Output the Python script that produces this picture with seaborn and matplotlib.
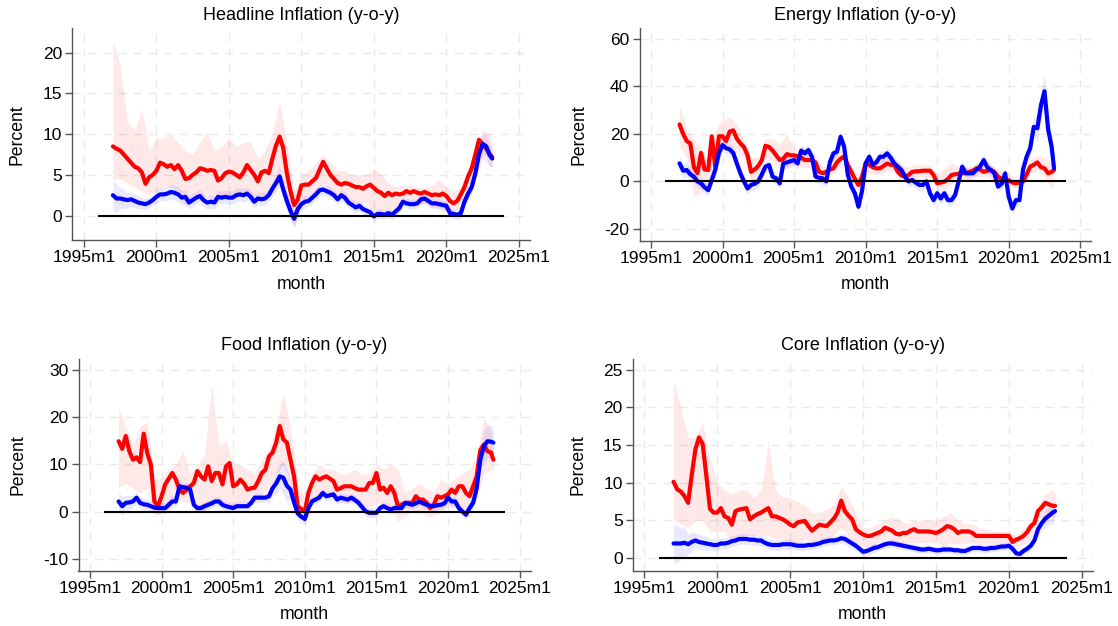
import numpy as np
import matplotlib
matplotlib.use("Agg")
import matplotlib.pyplot as plt
import seaborn as sns

# ---------------- data ----------------
# month index counted from 1997m1 (quarterly for lines, half-yearly for bands)
line_months = list(range(0, 313, 3)) + [314]
band_months = list(range(0, 313, 6)) + [314]
start_year = 1997

xtick_years = [1995, 2000, 2005, 2010, 2015, 2020, 2025]
xtick_labels = ["1995m1", "2000m1", "2005m1", "2010m1", "2015m1", "2020m1", "2025m1"]
zero_line_span = [1996, 2024]

titles = ["Headline Inflation (y-o-y)", "Energy Inflation (y-o-y)",
          "Food Inflation (y-o-y)", "Core Inflation (y-o-y)"]

# ---- Headline ----
headline_em = [8.5, 8.2, 8.0, 7.5, 7.0, 6.5, 6.0, 5.8, 5.3, 3.9, 4.7, 5.0,
               5.5, 6.5, 6.3, 6.0, 6.2, 5.7, 6.2, 5.5, 4.5, 4.6, 5.0, 5.3,
               5.8, 5.7, 5.5, 5.6, 5.5, 4.3, 4.6, 5.2, 5.4, 5.3, 5.0, 4.7,
               5.3, 6.2, 5.6, 5.0, 4.2, 5.3, 5.5, 5.2, 7.0, 8.6, 9.7, 8.3,
               5.2, 3.0, 1.3, 2.0, 3.7, 3.8, 3.8, 4.2, 4.6, 5.6, 6.6, 5.8,
               5.0, 4.5, 4.0, 3.8, 4.0, 3.9, 3.7, 3.5, 3.5, 3.3, 3.6, 3.8,
               3.4, 3.0, 2.8, 2.4, 2.8, 2.5, 2.7, 2.6, 2.7, 3.0, 2.8, 3.0,
               2.8, 2.7, 2.9, 2.7, 2.5, 2.6, 2.5, 2.7, 2.4, 1.8, 1.5, 1.8,
               2.6, 3.5, 4.8, 5.8, 7.5, 9.3, 8.8, 8.2, 7.5, 7.2]
headline_ae = [2.5, 2.1, 2.1, 2.0, 1.9, 2.0, 1.8, 1.6, 1.5, 1.4, 1.6, 1.9,
               2.3, 2.6, 2.6, 2.7, 2.9, 2.8, 2.6, 2.2, 2.3, 1.6, 1.9, 2.2,
               2.4, 1.9, 1.6, 1.7, 1.6, 2.3, 2.2, 2.3, 2.2, 2.2, 2.5, 2.6,
               2.5, 2.7, 2.3, 1.7, 2.1, 2.0, 2.1, 2.5, 3.3, 4.0, 4.8, 3.2,
               1.8, 0.6, -0.4, 0.8, 1.4, 1.7, 1.8, 2.2, 2.6, 3.1, 3.2, 3.0,
               2.8, 2.5, 2.0, 2.5, 2.2, 1.6, 1.3, 1.0, 1.2, 0.8, 0.6, 0.4,
               -0.1, 0.2, 0.2, 0.1, 0.3, 0.1, 0.5, 0.9, 1.7, 1.5, 1.4, 1.4,
               1.5, 2.0, 2.1, 1.8, 1.5, 1.5, 1.4, 1.3, 1.2, 0.3, 0.2, 0.1,
               0.3, 1.7, 2.7, 3.5, 5.2, 7.5, 8.8, 8.5, 7.4, 7.0]
headline_em_hi = [21.5, 18.5, 11.5, 10.5, 13, 8, 9.5, 9.5, 10, 9, 8, 7.5, 9, 10.3, 8, 8.5,
                  9.5, 8.5, 9, 9, 7, 8, 10, 14, 9, 3, 5, 5.5, 6.5, 7.5, 6.5, 5.5,
                  5.5, 5, 5, 5, 5.8, 5, 4, 3.5, 3.7, 3.7, 3.5, 3.5, 3.7, 4.5, 3.5, 3,
                  3.5, 5.5, 8, 10.5, 10, 8]
headline_em_lo = [4.5, 4.5, 4, 3.5, 3, 2.5, 3, 3.5, 3.5, 3, 1, 2.5, 2.5, 2.5, 1.5, 2,
                  2.5, 2.5, 2.5, 2.5, 2, 2.5, 3.5, 5, 1, -1.5, 1.5, 2.5, 3, 4, 3, 2.5,
                  2.5, 1.5, 1.5, 1.5, 0.5, 0.5, 0, 0.5, 1.5, 1.5, 1.5, 1.5, 1.0, 1, 0.5, 0.5,
                  1, 2, 4.5, 7, 6, 6]
headline_ae_hw = [1.8, 1.2, 0.9, 0.8, 0.7, 0.7, 0.8, 0.8, 0.9, 0.9, 0.8, 0.8, 0.8, 0.8, 0.8, 0.8,
                  0.8, 0.8, 0.8, 0.8, 0.8, 0.8, 1.0, 1.2, 1.2, 1.0, 0.8, 0.7, 0.7, 0.7, 0.7, 0.7,
                  0.7, 0.7, 0.6, 0.6, 0.6, 0.6, 0.6, 0.6, 0.6, 0.6, 0.6, 0.6, 0.6, 0.6, 0.6, 0.6,
                  0.7, 0.8, 1.0, 1.3, 1.4, 1.0]

# ---- Energy ----
energy_em = [24, 20, 17, 16, 6, 3.5, 12, 5, 4.8, 19, 6, 19,
             19, 17, 21, 21.5, 18, 16, 14.5, 11, 4, 5, 6.5, 9,
             15, 14.5, 13, 11, 9, 9.5, 11.5, 11, 11, 10.5, 10, 9,
             9, 9, 8, 4, 3.5, 4, 5, 5.5, 8, 9.5, 10.5, 7,
             4, 1, -1.5, 2, 7.5, 7, 6, 5.5, 5.5, 6.5, 7.5, 7,
             7, 4, 2.5, 2, 2.7, 4, 4.2, 4.3, 4.5, 4.5, 4.5, 2.7,
             -0.8, -0.5, -0.1, 1, 2.7, 3, 3.2, 3.4, 3.5, 4, 4.5, 5.5,
             5, 4, 4.5, 4.8, 4, 2, 1, 0.5, 0.5, -0.5, -0.8, -0.5,
             0, 3, 6.2, 7, 8, 6, 5.5, 3.4, 4, 4.8]
energy_ae = [7.6, 4.5, 4.8, 3, 2, 0, -0.8, -2.5, -3.7, 0.6, 5, 12,
             15.3, 14, 13.5, 12, 7.6, 3.4, 0, -3, -1.5, -1, 0, 3,
             6.2, 6.9, 2, 1.3, -0.8, 7.6, 8, 8.5, 9, 7.6, 13, 11.8,
             13.2, 10.4, 2, 1.5, 1.3, 0, 8, 11.8, 12.5, 18.8, 14.6, 3,
             -2.2, -5, -10.7, -4, 7.6, 10.4, 7, 8, 10.4, 10.4, 11.8, 10,
             7.6, 6.2, 4.8, 2, 0, 0.6, -0.5, -1.5, -1.5, 0, -5, -7.9,
             -5, -7.2, -5, -7.9, -7.9, -5.8, 0, 6.2, 3.4, 3.4, 3.4, 5,
             6.2, 9, 6, 4.8, 3.4, -2.2, -1, 3.4, -6.5, -11.4, -7.9, -7.9,
             5, 10.4, 14, 23, 22.4, 32, 38, 22, 14.6, 5.5]
energy_em_hi = [32, 22, 18, 14, 8, 22, 26, 27, 24, 18, 10, 10, 18, 18, 16, 20,
                14, 12, 12, 11, 6, 8, 12, 14, 7, 2, 10, 9, 10, 10, 9, 7,
                6, 7, 7, 7, 3, 5, 8, 6, 6, 7, 8, 8, 6, 4, 3, 1.5,
                2, 9, 11, 10, 8, 6]
energy_em_lo = [15, 10, -6, -5, 0, 2, 14, 15, 12, 10, 0, 2, 10, 9, 5, 6,
                7, 6, 6, 5, 1, 2, 5, 7, 0, -4, 4, 3, 3, 4, 4, 0,
                0, 2, 2, 2, -3, -3, -1, 0, 1, 2, 2, 2, 0, -1, -2, -3,
                -2, 3, 5, 2, -3, 0]
energy_ae_hw = [3, 3, 2.5, 2.5, 2.5, 2.5, 2.5, 2.5, 2.5, 2.5, 2.5, 2.5, 2.5, 2.5, 2.5, 2.5,
                2.5, 2.5, 2.5, 2.5, 2.5, 2.5, 2.5, 2.5, 3, 3, 2.5, 2.5, 2.5, 2.5, 2.5, 2.5,
                2.5, 2.5, 2.5, 2.5, 2.5, 2.5, 2.5, 2.5, 2.5, 2.5, 2.5, 2.5, 2.5, 2.5, 2.5, 2.5,
                3, 4, 6, 7, 6, 4]

# ---- Food ----
food_em = [14.9, 13.3, 16, 12.8, 11, 11.5, 10.5, 16.5, 12.4, 10, 2.2, 1.2,
           3.3, 5.8, 7, 8.2, 6.8, 4.7, 4, 4.7, 5.4, 6.1, 8.6, 7.5,
           6.8, 9.6, 6.5, 8.2, 8.2, 5.8, 9.6, 10.3, 5.4, 5.8, 6.8, 6,
           4.7, 5, 5.1, 6.5, 8.2, 8.9, 11.7, 12.5, 14.6, 18.1, 15.3, 14.6,
           11, 7.5, 1.2, 0.6, 0.1, 4, 6.1, 7.5, 6.8, 7.2, 7.5, 7,
           6.5, 4.7, 5, 5.4, 5.4, 5.4, 5, 4.7, 4.7, 4.7, 6.1, 6.1,
           8.2, 4.7, 5.1, 4, 5.4, 4, 1.2, 1.5, 1.9, 1.9, 1.9, 3.3,
           2.6, 2.6, 1.9, 0.8, 1.5, 3.3, 3, 3.3, 3.7, 4.7, 4, 5.4,
           5.4, 4, 3.3, 5.4, 7.5, 13, 14.2, 12.8, 12.5, 11]
food_ae = [2.2, 1.2, 1.9, 2, 2.2, 3, 1.9, 1.6, 1.5, 1.2, 0.9, 0.8,
           0.8, 0.8, 1.5, 2.2, 2.2, 5.4, 5.2, 5.1, 4.7, 1.5, 0.8, 0.8,
           1.2, 1.5, 1.8, 2.2, 2.2, 1.5, 1.2, 1, 0.8, 1.2, 1.2, 1.2,
           1.2, 1.9, 3, 3, 3, 3, 3.3, 5, 6, 7.5, 7.2, 5.5,
           4.7, 2, -0.3, -1, -1.5, 0.8, 2.2, 2.6, 3, 4, 3.3, 3.5,
           3.7, 2.6, 3, 2.8, 2.6, 3, 2.5, 1.9, 1, 0.1, -0.2, -0.2,
           -0.2, 0.8, 1.2, 0.8, 0.5, 0.8, 0.8, 0.8, 1.9, 1.7, 1.5, 1.8,
           2.2, 1.8, 1.5, 1.3, 1.2, 1.4, 1.5, 1.8, 3, 2.2, 2.2, 0.8,
           0.1, -0.6, 0.8, 1.9, 5, 11, 13.8, 14.9, 14.8, 14.6]
food_em_hi = [22, 18, 14, 18, 19, 7, 7, 9, 10, 13, 8, 10, 12, 27, 14, 15,
              10, 10, 9, 8, 11, 13, 18, 25, 18, 6, 3, 8, 10, 9, 9, 8,
              8, 9, 8, 8, 10, 9, 10, 9, 4, 5, 6, 5, 4, 7, 6, 7,
              8, 9, 12, 20, 17, 13]
food_em_lo = [5, 6, 5, 4, 5, -1, 0, 2, 3, 2, 2, 2, 0, 2, 2, 2,
              1, 2, 2, 2, 4, 5, 8, 10, 6, -1, -2, 2, 3, 4, 3, 2,
              2, 2, 1, 1, 2, 1, 1, -2, -1, 0, 0, -1, -1, 0, 1, 1,
              1, 0, 3, 8, 9, 9]
food_ae_hw = [2, 1.5, 1.3, 1.2, 1.2, 1.2, 1.2, 1.2, 1.0, 1.0, 1.0, 1.0, 1.0, 1.0, 1.0, 1.0,
              1.0, 1.0, 1.0, 1.0, 1.0, 1.5, 2.5, 3.5, 2.0, 1.3, 1.2, 1.0, 1.0, 1.0, 1.0, 1.0,
              1.0, 1.0, 1.0, 1.0, 1.0, 1.0, 1.0, 1.0, 1.0, 1.0, 1.0, 1.0, 1.0, 1.0, 1.0, 1.0,
              1.0, 1.2, 2.0, 3.5, 3.5, 2.5]

# ---- Core ----
core_em = [10.1, 9.1, 8.8, 8.2, 7.3, 11, 14.4, 16, 15.1, 10.9, 6.5, 6,
           6, 6.6, 5.5, 5.3, 4.4, 6.2, 6.4, 6.5, 6.6, 5.1, 5.5, 5.8,
           6, 6.3, 6.6, 5.5, 5.5, 5.3, 5.1, 4.8, 4.4, 4.2, 4.7, 4.8,
           4.9, 4.2, 3.6, 4.0, 4.4, 4.3, 4.2, 4.7, 5.2, 6, 7.6, 6.2,
           5.6, 5.1, 3.8, 3.4, 3.1, 2.9, 2.9, 3.1, 3.3, 3.5, 4, 3.8,
           3.6, 3.2, 3.1, 3.3, 3.3, 3.6, 3.8, 3.5, 3.5, 3.5, 3.5, 3.4,
           3.3, 3.5, 3.8, 4.2, 4.1, 3.8, 3.3, 3.5, 3.5, 3.5, 3.3, 2.9,
           2.9, 2.9, 2.9, 2.9, 2.9, 2.9, 2.9, 2.9, 2.9, 2.1, 2.4, 2.6,
           2.9, 3.4, 4.2, 4.6, 6.2, 6.7, 7.3, 7.1, 6.9, 6.9]
core_ae = [1.9, 1.9, 1.9, 2.0, 1.8, 2.1, 2.3, 2.1, 2.0, 1.9, 1.8, 1.7,
           1.7, 1.9, 1.9, 2.0, 2.2, 2.3, 2.5, 2.5, 2.5, 2.4, 2.4, 2.3,
           2.3, 2.0, 1.8, 1.7, 1.7, 1.7, 1.8, 1.8, 1.8, 1.7, 1.6, 1.6,
           1.6, 1.7, 1.7, 1.8, 1.9, 2.1, 2.2, 2.3, 2.3, 2.4, 2.6, 2.5,
           2.2, 1.9, 1.6, 1.2, 0.8, 0.9, 1.1, 1.3, 1.4, 1.6, 1.8, 1.9,
           1.9, 1.8, 1.7, 1.6, 1.5, 1.4, 1.3, 1.2, 1.1, 1.1, 1.2, 1.1,
           1.0, 1.0, 1.1, 1.1, 1.1, 1.0, 1.0, 0.9, 0.9, 1.1, 1.3, 1.3,
           1.3, 1.2, 1.2, 1.3, 1.3, 1.4, 1.5, 1.5, 1.6, 1.2, 0.6, 0.5,
           0.9, 1.2, 1.6, 2.3, 3.8, 4.6, 5.2, 5.6, 6.0, 6.2]
core_em_hi = [23.5, 20, 16, 16, 18, 13, 10, 9, 8.5, 9, 9, 8, 9, 15.5, 9, 8,
              8, 7.5, 7, 6, 6, 6.5, 7, 9.5, 8, 6, 4, 4, 4.5, 5, 5.5, 5,
              4.5, 5, 5, 5, 5, 5.5, 6, 5, 4.5, 4.5, 4, 3.8, 3.5, 3.5, 3.5, 3,
              3.8, 5, 7, 8.5, 9, 8.5]
core_em_lo = [5, 4.5, 4, 5, 5, 3.5, 3.5, 3.5, 2, 2.5, 3, 3, 3, 3, 2.5, 2.5,
              2, 2, 2.5, 2.2, 2.5, 2.5, 3, 4, 3, 2, 1.5, 1.5, 2, 2.5, 2, 1.8,
              2, 2, 2, 2, 2, 1.5, 2, 1.8, 2, 2, 1.8, 1.8, 1.8, 1.8, 1.8, 1.2,
              1.8, 2.5, 5, 5.5, 5.5, 5.5]
core_ae_hw = [2.5, 2.0, 1.3, 1.0, 0.9, 0.8, 0.7, 0.7, 0.7, 0.7, 0.7, 0.7, 0.7, 0.7, 0.7, 0.7,
              0.6, 0.6, 0.6, 0.6, 0.6, 0.6, 0.6, 0.7, 0.7, 0.6, 0.6, 0.6, 0.5, 0.5, 0.5, 0.5,
              0.5, 0.5, 0.5, 0.5, 0.5, 0.5, 0.5, 0.5, 0.5, 0.5, 0.5, 0.5, 0.5, 0.5, 0.5, 0.5,
              0.5, 0.6, 0.8, 1.2, 1.5, 1.0]

panels = [
    (headline_em, headline_ae, headline_em_lo, headline_em_hi, headline_ae_hw,
     (-3, 23), [0, 5, 10, 15, 20]),
    (energy_em, energy_ae, energy_em_lo, energy_em_hi, energy_ae_hw,
     (-24.9, 64.5), [-20, 0, 20, 40, 60]),
    (food_em, food_ae, food_em_lo, food_em_hi, food_ae_hw,
     (-12.4, 32.3), [-10, 0, 10, 20, 30]),
    (core_em, core_ae, core_em_lo, core_em_hi, core_ae_hw,
     (-1.72, 26.46), [0, 5, 10, 15, 20, 25]),
]

# ---------------- style ----------------
sns.set_theme(style="white")
plt.rcParams['font.family'] = ['Liberation Sans', 'DejaVu Sans']
plt.rcParams['text.color'] = 'black'
plt.rcParams['axes.labelcolor'] = 'black'
plt.rcParams['xtick.color'] = 'black'
plt.rcParams['ytick.color'] = 'black'

W, H = 1118, 626
fig = plt.figure(figsize=(W / 100, H / 100), dpi=100)
# axes boxes in pixels: left, top, right, bottom
rects_px = [(72.3, 28.3, 530.0, 240.0), (639.5, 28.3, 1091.3, 240.5),
            (78.5, 358.7, 530.7, 570.7), (632.7, 358.7, 1093.0, 570.7)]

xq = start_year + np.array(line_months) / 12.0
xb = start_year + np.array(band_months) / 12.0

for (em, ae, lo, hi, hw, ylim, yt), title, (l, t, r, b) in zip(panels, titles, rects_px):
    ax = fig.add_axes([l / W, 1 - b / H, (r - l) / W, (b - t) / H])
    em = np.array(em, dtype=float)
    ae = np.array(ae, dtype=float)
    hw = np.array(hw, dtype=float)
    hwq = np.append(np.repeat(hw[:-1], 2)[:len(xq) - 1], hw[-1])

    ax.fill_between(xb, lo, hi, color='#ff0000', alpha=0.09, lw=0, zorder=1)
    ax.fill_between(xq, ae - hwq, ae + hwq, color='#0000ff', alpha=0.09, lw=0, zorder=1)
    sns.lineplot(x=xq, y=em, color='#ff0000', lw=3.0, ax=ax, estimator=None, sort=False, zorder=3)
    sns.lineplot(x=xq, y=ae, color='#0000ff', lw=3.0, ax=ax, estimator=None, sort=False, zorder=4)
    ax.hlines(0, zero_line_span[0], zero_line_span[1], color='black', lw=1.5, zorder=5)

    ax.set_xlim(1994.2, 2025.77)
    ax.set_ylim(*ylim)
    ax.set_xticks(xtick_years)
    ax.set_xticklabels(xtick_labels)
    ax.set_yticks(yt)
    ax.set_yticklabels([str(v) for v in yt])
    ax.grid(True, color='#eaeaea', linestyle=(0, (6, 5)), lw=1.0, zorder=0)
    ax.set_axisbelow(True)
    for s in ['top', 'right']:
        ax.spines[s].set_visible(False)
    for s in ['left', 'bottom']:
        ax.spines[s].set_color('#555555')
        ax.spines[s].set_linewidth(1.0)
    ax.tick_params(axis='both', which='major', direction='out', length=4.8, width=1.0,
                   color='#555555', labelcolor='black', labelsize=12.5, pad=2.5,
                   bottom=True, left=True)
    ax.set_title(title, fontsize=13, pad=6, color='black')
    ax.set_xlabel("month", fontsize=12.7, labelpad=7.5, color='black')
    ax.set_ylabel("Percent", fontsize=12.7, labelpad=12, color='black')

fig.savefig("out.png", dpi=100)
